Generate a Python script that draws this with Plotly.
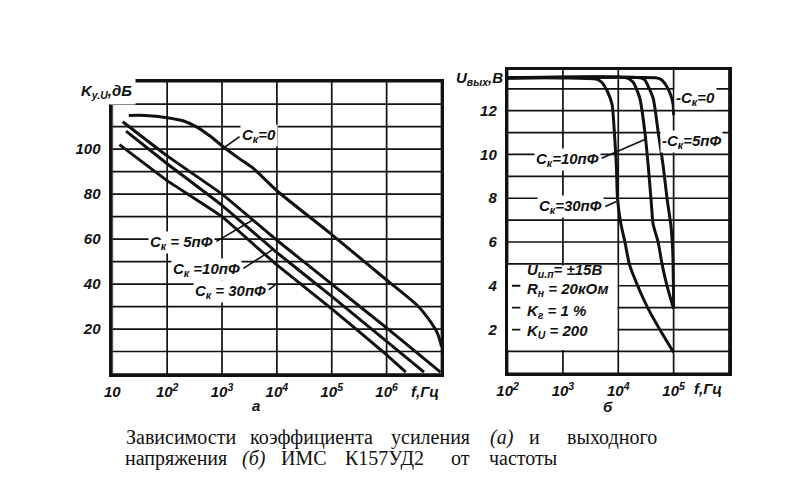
import plotly.graph_objects as go

W, H = 799, 501

# ---------------- data: chart (а) gain K_yU, dB vs f, Hz ----------------
a_f_c0 = [20, 40, 100, 200, 355, 630, 1000, 2000, 3700, 10000, 100000,
          1000000, 3600000, 6300000, 8300000, 9500000, 10000000]
a_k_c0 = [115, 115, 114, 112.5, 109.7, 105.5, 101.5, 96, 91.5, 81.5, 62,
          41.8, 30.6, 23.3, 18.5, 14.4, 12.2]
a_f_c5 = [15.5, 100, 1000, 10000, 100000, 1000000, 9600000]
a_k_c5 = [112.2, 97, 80, 59.5, 40, 20.5, 0.8]
a_f_c10 = [17.8, 100, 1000, 10000, 100000, 1000000, 4800000]
a_k_c10 = [108, 93.5, 75, 54, 34.5, 14.5, 0.8]
a_f_c30 = [13.5, 100, 1000, 10000, 100000, 1000000, 2240000]
a_k_c30 = [102, 86, 70, 48.5, 29, 8.5, 0.8]

a_xticks = [10, 100, 1000, 10000, 100000, 1000000, 10000000]
a_xtext = ["10", "10<sup>2</sup>", "10<sup>3</sup>", "10<sup>4</sup>",
           "10<sup>5</sup>", "10<sup>6</sup>", ""]
a_yticks = list(range(0, 140, 10))
a_ytext = ["", "", "20", "", "40", "", "60", "", "80", "", "100", "", "", ""]

# ---------------- data: chart (б) U_out, V vs f, Hz ----------------
b_f_c30 = [100, 1000, 3980, 5010, 6310, 7760, 8510, 9230, 9660, 11200,
           13200, 15800, 22400, 33900, 56200, 100000]
b_u_c30 = [13.5, 13.5, 13.45, 13.3, 12.9, 12.26, 11.0, 9.5, 8.0, 6.8,
           6.0, 5.0, 4.0, 3.0, 2.0, 0.95]
b_f_c10 = [100, 14100, 18600, 24500, 30200, 34700, 38900, 42700, 52500,
           61700, 75900, 100000]
b_u_c10 = [13.5, 13.5, 13.3, 12.57, 11.04, 9.5, 8.0, 6.8, 6.0, 5.0, 4.0, 2.95]
b_f_c5 = [100, 25100, 30200, 42700, 52500, 64600, 75900, 89100, 96600, 100000]
b_u_c5 = [13.5, 13.5, 13.4, 12.57, 11.04, 9.5, 8.0, 6.77, 5.5, 3.0]
b_f_c0 = [100, 49000, 60300, 69200, 79400, 89100, 97700, 100000]
b_u_c0 = [13.5, 13.5, 13.42, 13.25, 13.0, 12.7, 12.3, 11.8]

b_xticks = [100, 1000, 10000, 100000, 1000000]
b_xtext = ["10<sup>2</sup>", "10<sup>3</sup>", "10<sup>4</sup>", "10<sup>5</sup>", ""]
b_yticks = list(range(0, 14))
b_ytext = ["", "", "2", "", "4", "", "6", "", "8", "", "10", "", "12", ""]
b_ytop = 13.86

params = ["U<sub>и.п</sub>= ±15В", "R<sub>н</sub> = 20кОм",
          "K<sub>г</sub> = 1 %", "K<sub>U</sub> = 200"]

caption1 = ["Зависимости", "коэффициента", "усиления", "<i>(а)</i>", "и", "выходного"]
caption2 = ["напряжения", "<i>(б)</i>", "ИМС", "К157УД2", "от", "частоты"]

# ---------------- layout helpers ----------------
def px_x(p):
    return p / W

def px_y(p):
    return 1 - p / H

LW = 3.0
INK = "#111111"
FONT = dict(family="Liberation Sans", size=15, color=INK, style="italic", weight="bold")

fig = go.Figure()

# grid (drawn from the tick arrays)
grid = dict(color=INK, width=1.7)
def grid_traces(xt, yt, y_top, xa, ya):
    gx, gy = [], []
    for v in xt:
        gx += [v, v, None]
        gy += [0, y_top, None]
    for v in yt:
        gx += [xt[0], xt[-1], None]
        gy += [v, v, None]
    fig.add_trace(go.Scatter(x=gx, y=gy, mode="lines", line=grid, xaxis=xa, yaxis=ya,
                             hoverinfo="skip"))

grid_traces(a_xticks, a_yticks, 130, "x", "y")
grid_traces(b_xticks, b_yticks, b_ytop, "x2", "y2")

# white box for parameters (hides the grid)
fig.add_trace(go.Scatter(x=[102, 9660, 9660, 102, 102], y=[1.07, 1.07, 4.93, 4.93, 1.07],
                         xaxis="x2", yaxis="y2", mode="lines", fill="toself",
                         fillcolor="white", line=dict(width=0), hoverinfo="skip"))
# short ticks inside the box
fig.add_trace(go.Scatter(x=[120, 170, None, 120, 170, None, 120, 170],
                         y=[4, 4, None, 3, 3, None, 2, 2],
                         xaxis="x2", yaxis="y2", mode="lines",
                         line=dict(color=INK, width=1.8), hoverinfo="skip"))

curve = dict(color=INK, width=LW)
fig.add_trace(go.Scatter(x=a_f_c0, y=a_k_c0, mode="lines",
                         line=dict(shape="spline", smoothing=0.6, **curve)))
for fx, ky in [(a_f_c5, a_k_c5), (a_f_c10, a_k_c10), (a_f_c30, a_k_c30)]:
    fig.add_trace(go.Scatter(x=fx, y=ky, mode="lines",
                             line=dict(shape="spline", smoothing=0.3, **curve)))
for fx, uy in [(b_f_c30, b_u_c30), (b_f_c10, b_u_c10), (b_f_c5, b_u_c5), (b_f_c0, b_u_c0)]:
    fig.add_trace(go.Scatter(x=fx, y=uy, mode="lines", xaxis="x2", yaxis="y2",
                             line=dict(shape="spline", smoothing=0.5, **curve)))

# leader lines
lead = dict(color=INK, width=1.6)
a_leaders = [([1050, 2090], [100.4, 105.6]),
             ([790, 3630], [59.0, 68.5]),
             ([2450, 8510], [47.0, 55.4]),
             ([7100, 9300], [37.4, 39.6])]
for lx, ly in a_leaders:
    fig.add_trace(go.Scatter(x=lx, y=ly, mode="lines", line=lead, hoverinfo="skip"))
b_leaders = [([5000, 30200], [9.83, 10.68]),
             ([5800, 9300], [7.62, 7.85])]
for lx, ly in b_leaders:
    fig.add_trace(go.Scatter(x=lx, y=ly, mode="lines", xaxis="x2", yaxis="y2",
                             line=lead, hoverinfo="skip"))

axis_common = dict(showgrid=False, showline=True,
                   linecolor=INK, linewidth=2.6, mirror=True, ticks="",
                   zeroline=False, tickfont=FONT, tickmode="array")

fig.update_layout(
    width=W, height=H, margin=dict(l=0, r=0, t=0, b=0),
    paper_bgcolor="white", plot_bgcolor="white", showlegend=False,
    xaxis=dict(domain=[px_x(102.7), px_x(436.5)], type="log", range=[1, 7],
               tickvals=a_xticks, ticktext=a_xtext, anchor="y",
               ticklabelstandoff=2, **axis_common),
    yaxis=dict(domain=[px_y(374), px_y(81.7)], range=[0, 130],
               tickvals=a_yticks, ticktext=a_ytext, anchor="x",
               ticklabelstandoff=6, **axis_common),
    xaxis2=dict(domain=[px_x(503.5), px_x(728)], type="log", range=[2, 6],
                tickvals=b_xticks, ticktext=b_xtext, anchor="y2",
                ticklabelstandoff=2, **axis_common),
    yaxis2=dict(domain=[px_y(373.3), px_y(70)], range=[0, b_ytop],
                tickvals=b_yticks, ticktext=b_ytext, anchor="x2",
                ticklabelstandoff=5, **axis_common),
)

ann = []

def add(text, x, y, xref="paper", yref="paper", xanchor="center", yanchor="middle",
        font=FONT, bg=None, pad=1):
    d = dict(text=text, x=x, y=y, xref=xref, yref=yref, xanchor=xanchor,
             yanchor=yanchor, showarrow=False, font=font, borderpad=pad)
    if bg:
        d["bgcolor"] = bg
    ann.append(d)

BIG = dict(FONT, size=15)
# axis titles
add("K<sub>у.U</sub>,дБ", px_x(127), px_y(92), xanchor="right", bg="white", pad=3, font=BIG)
add("U<sub>вых</sub>,В", px_x(501), px_y(78), xanchor="right", font=BIG)
add("f,Гц", px_x(404), px_y(391), xanchor="left", font=BIG)
add("f,Гц", px_x(690), px_y(388.5), xanchor="left", font=BIG)
add("а", px_x(248), px_y(405), font=BIG)
add("б", px_x(605), px_y(406), font=BIG)

# curve labels, chart (а)
add("C<sub>к</sub>=0", 3.33, 105.9, "x", "y", xanchor="left", bg="white", font=BIG)
add("C<sub>к</sub> = 5пФ", 2.87, 58.3, "x", "y", xanchor="right", bg="white", font=BIG)
add("C<sub>к</sub> =10пФ", 3.36, 46.4, "x", "y", xanchor="right", bg="white", font=BIG)
add("C<sub>к</sub> = 30пФ", 3.83, 36.7, "x", "y", xanchor="right", bg="white", font=BIG)

# curve labels, chart (б)
add("-C<sub>к</sub>=0", 5.005, 12.57, "x2", "y2", xanchor="left", bg="white", font=BIG)
add("-C<sub>к</sub>=5пФ", 4.755, 10.6, "x2", "y2", xanchor="left", bg="white", font=BIG)
add("C<sub>к</sub>=10пФ", 3.68, 9.75, "x2", "y2", xanchor="right", bg="white", font=BIG)
add("C<sub>к</sub>=30пФ", 3.74, 7.61, "x2", "y2", xanchor="right", bg="white", font=BIG)

for txt, yy in zip(params, [4.72, 3.81, 2.82, 1.90]):
    add(txt, 2.32, yy, "x2", "y2", xanchor="left", font=BIG)

# caption (word centres as in the reference)
CAP = dict(family="Liberation Serif", size=20, color=INK)
for word, xx in zip(caption1, [172, 305, 425, 498, 531, 609]):
    add(word, px_x(xx), px_y(437), font=CAP)
for word, xx in zip(caption2, [167, 246, 297, 379, 456, 519]):
    add(word, px_x(xx), px_y(458), font=CAP)

fig.update_layout(annotations=ann)
fig.write_html("out.html", post_script="document.body.style.margin='0';",
               config={"displayModeBar": False})
